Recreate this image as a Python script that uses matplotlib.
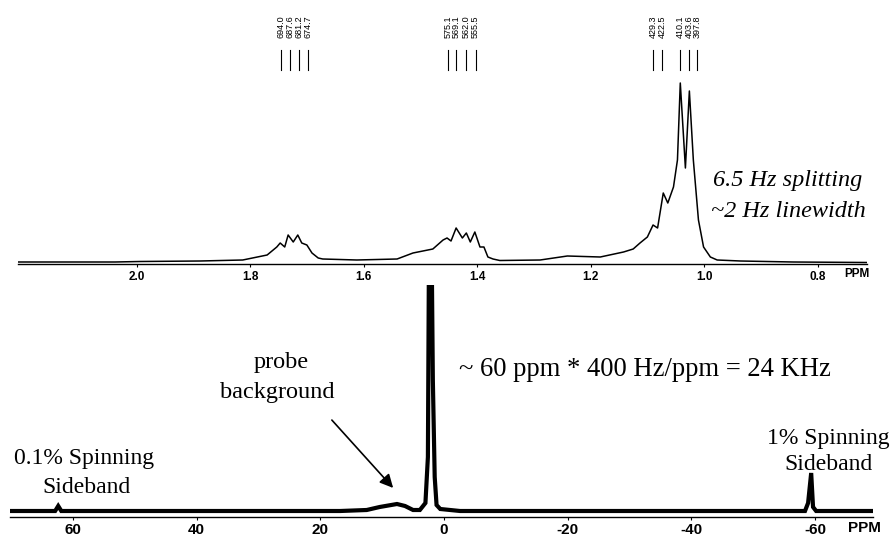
import matplotlib
matplotlib.use("Agg")
import matplotlib.pyplot as plt

plt.rcParams['axes.unicode_minus'] = False

# ---------------- data ----------------
# 1H spectrum expansion (ppm, relative intensity)
top_ppm = [2.209, 2.038, 1.994, 1.888, 1.813, 1.770, 1.753, 1.747, 1.739, 1.733,
           1.724, 1.716, 1.709, 1.700, 1.691, 1.680, 1.672, 1.612, 1.541, 1.513,
           1.478, 1.460, 1.453, 1.446, 1.437, 1.426, 1.419, 1.412, 1.404, 1.395,
           1.388, 1.381, 1.372, 1.360, 1.289, 1.241, 1.183, 1.142, 1.125, 1.113,
           1.100, 1.090, 1.082, 1.072, 1.064, 1.054, 1.047, 1.042, 1.033, 1.026,
           1.019, 1.010, 1.001, 0.989, 0.977, 0.936, 0.843, 0.713]
top_int = [2, 2, 2.5, 3, 4, 9, 17, 21, 17, 29,
           22, 29, 21, 19, 11, 6, 5, 4, 5, 11,
           15, 24, 26, 23, 36, 26, 31, 22, 32, 17,
           17, 7, 5, 3.5, 4, 8, 7, 12, 15, 21,
           27, 39, 36, 71, 61, 77, 104, 181, 96, 173,
           104, 44, 17, 7, 4, 3, 2, 1.5]

# full-width spectrum (ppm, relative intensity)
bot_ppm = [70.2, 62.9, 62.4, 61.9, 16.8, 12.5, 10.4, 7.6, 6.3, 5.0,
           3.9, 3.0, 2.6, 2.45, 1.95, 1.8, 1.5, 1.2, 0.6, -2.6,
           -58.4, -58.9, -59.4, -59.7, -60.2, -69.4]
bot_int = [6, 6, 11, 6, 6, 7, 10, 13, 11, 7,
           7, 14, 60, 240, 240, 137, 40, 12, 8, 6,
           6, 14, 44, 10, 6, 6]

# peak-pick labels (Hz)
peak_hz = [694.0, 687.6, 681.2, 674.7, 575.1, 569.1, 562.0, 555.5,
           429.3, 422.5, 410.1, 403.6, 397.8]
SPEC_MHZ = 403.9
REF_OFFSET = 0.0274

top_ticks = [2.0, 1.8, 1.6, 1.4, 1.2, 1.0, 0.8]
top_ticklabels = ['2.0', '1.8', '1.6', '1.4', '1.2', '1.0', '0.8']
bot_ticks = [60, 40, 20, 0, -20, -40, -60]
bot_ticklabels = ['60', '40', '20', '0', '-20', '-40', '-60']

# ---------------- figure ----------------
W, H = 893, 537
fig = plt.figure(figsize=(W / 100, H / 100), dpi=100)
fig.patch.set_facecolor('white')

def box(l, r, b, t):
    return [l / W, 1 - b / H, (r - l) / W, (b - t) / H]

SANS = 'Liberation Sans'
SERIF = 'Liberation Serif'

# ---- top panel ----
ax1 = fig.add_axes(box(18, 867, 264, 5))
ax1.plot(top_ppm, top_int, color='black', lw=1.1, solid_joinstyle='round')
ax1.set_xlim(2.209, 0.713)
ax1.set_ylim(0, 259)
for s in ['left', 'right', 'top']:
    ax1.spines[s].set_visible(False)
ax1.spines['bottom'].set_linewidth(1.0)
ax1.set_yticks([])
ax1.set_xticks(top_ticks)
ax1.set_xticklabels(top_ticklabels, fontfamily=SANS, fontweight='bold', fontsize=8.5)
ax1.tick_params(axis='x', length=2.5, width=0.8, pad=2.5, direction='out')
ax1.patch.set_alpha(0)

for hz in peak_hz:
    p = hz / SPEC_MHZ + REF_OFFSET
    ax1.plot([p, p], [194, 214], color='black', lw=0.8, clip_on=False)
    ax1.text(p, 226, f'{hz:.1f}', rotation=90, ha='center', va='bottom',
             fontsize=6.5, fontfamily=SANS, clip_on=False)

fig.text(857 / W, 1 - 274 / H, 'PPM', ha='center', va='center',
         fontsize=8.5, fontfamily=SANS, fontweight='bold')

fig.text(713 / W, 1 - 186 / H, '6.5 Hz splitting', ha='left', va='baseline',
         fontsize=17.5, fontfamily=SERIF, style='italic')
fig.text(711 / W, 1 - 217 / H, '~2 Hz linewidth', ha='left', va='baseline',
         fontsize=17.5, fontfamily=SERIF, style='italic')

# ---- bottom panel ----
ax2 = fig.add_axes(box(10, 873, 517, 285))
ax2.plot(bot_ppm, bot_int, color='black', lw=3.0, solid_joinstyle='miter')
ax2.set_xlim(70.2, -69.4)
ax2.set_ylim(0, 232)
for s in ['left', 'right', 'top']:
    ax2.spines[s].set_visible(False)
ax2.spines['bottom'].set_linewidth(1.0)
ax2.set_yticks([])
ax2.set_xticks(bot_ticks)
ax2.set_xticklabels(bot_ticklabels, fontfamily=SANS, fontweight='bold', fontsize=11)
ax2.tick_params(axis='x', length=2.5, width=0.8, pad=1.5, direction='out')
ax2.patch.set_alpha(0)

fig.text(864 / W, 1 - 528 / H, 'PPM', ha='center', va='center',
         fontsize=11, fontfamily=SANS, fontweight='bold')

fig.text(459 / W, 1 - 376 / H, '~ 60 ppm * 400 Hz/ppm = 24 KHz', ha='left',
         va='baseline', fontsize=19.2, fontfamily=SERIF)
fig.text(281 / W, 1 - 368 / H, 'probe', ha='center', va='baseline',
         fontsize=17.5, fontfamily=SERIF)
fig.text(277 / W, 1 - 398 / H, 'background', ha='center', va='baseline',
         fontsize=17.5, fontfamily=SERIF)
fig.text(84 / W, 1 - 464 / H, '0.1% Spinning', ha='center', va='baseline',
         fontsize=17, fontfamily=SERIF)
fig.text(86 / W, 1 - 493 / H, 'Sideband', ha='center', va='baseline',
         fontsize=17, fontfamily=SERIF)
fig.text(828 / W, 1 - 444 / H, '1% Spinning', ha='center', va='baseline',
         fontsize=17, fontfamily=SERIF)
fig.text(828 / W, 1 - 470 / H, 'Sideband', ha='center', va='baseline',
         fontsize=17, fontfamily=SERIF)

fig.patches.append(matplotlib.patches.FancyArrowPatch(
    (330 / W, 1 - 418 / H), (395 / W, 1 - 490 / H),
    transform=fig.transFigure, arrowstyle='-|>', mutation_scale=20,
    color='black', lw=1.2))

fig.savefig('out.png', dpi=100, facecolor='white')
